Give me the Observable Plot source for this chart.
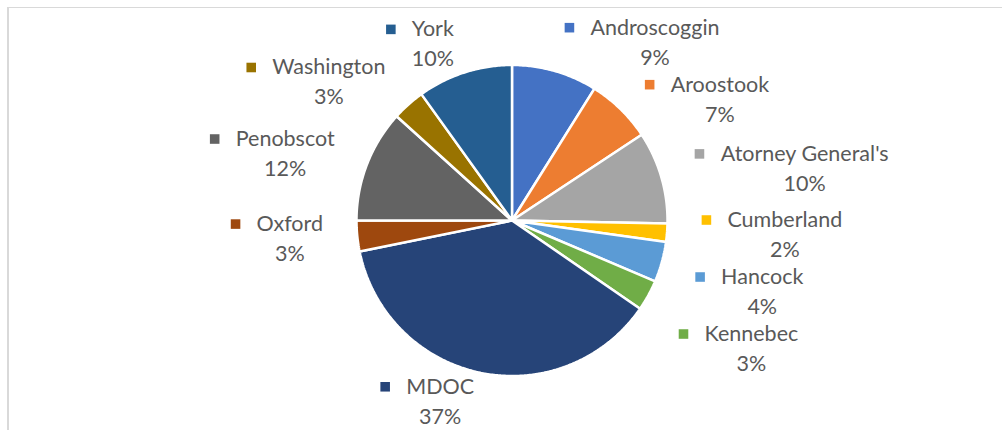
<!DOCTYPE html>
<html><head><meta charset="utf-8">
<script src="https://cdn.jsdelivr.net/npm/d3@7"></script>
<script src="https://cdn.jsdelivr.net/npm/@observablehq/plot@0.6"></script>
<style>
html,body{margin:0;padding:0;background:#fff;}
#wrap{position:relative;width:1002px;height:430px;overflow:hidden;}
#frame{position:absolute;left:7px;top:7px;right:-4px;bottom:-4px;border-left:2px solid #d9d9d9;border-top:1px solid #d9d9d9;pointer-events:none;}
#wrap svg{position:absolute;left:0;top:0;}
</style></head><body><div id="wrap"><div id="frame"></div></div>
<script>
// ---- data ----
const counties = ["Androscoggin","Aroostook","Atorney General's","Cumberland","Hancock","Kennebec","MDOC","Oxford","Penobscot","Washington","York"];
const shares = [8.9, 6.8, 9.6, 1.9, 4.2, 3.2, 37.2, 3.2, 11.7, 3.4, 9.9];
const colors = ["#4472C4","#ED7D31","#A5A5A5","#FFC000","#5B9BD5","#70AD47","#264478","#9E480E","#636363","#997300","#255E91"];

// ---- layout ----
const W = 1002, H = 430, CX = 511.5, CY = 220, R = 155.5;
const FONT_SIZE = 21.5, FONT_FAMILY = "Lato";
const TEXT_COLOR = "#595959";
const RX = 190, RY = 185, GAP = 57, KEY = 26, LINE = 15, OVERLAP_TOL = 10;

const rows = counties.map((name, i) => ({name, value: shares[i]}));
const total = d3.sum(shares);
const arcs = d3.pie().sort(null).value(d => d.value)(rows);

// slice outlines in unit-circle coordinates (angle clockwise from top)
const slicePts = [];
for (const a of arcs) {
  const n = Math.max(2, Math.ceil((a.endAngle - a.startAngle) / 0.01));
  slicePts.push({name: a.data.name, x: 0, y: 0});
  for (let i = 0; i <= n; i++) {
    const t = a.startAngle + (a.endAngle - a.startAngle) * i / n;
    slicePts.push({name: a.data.name, x: Math.sin(t), y: Math.cos(t)});
  }
}

// label layout: outside the pie at the slice's mid-angle, pushed down to avoid overlaps
const ctx = document.createElement("canvas").getContext("2d");
ctx.font = `${FONT_SIZE}px ${FONT_FAMILY}`;
const labels = arcs.map(a => {
  const t = (a.startAngle + a.endAngle) / 2;
  const s = Math.sin(t), c = Math.cos(t);
  const side = s >= 0 ? 1 : -1;
  const w = ctx.measureText(a.data.name).width;
  const ex = CX + RX * s;
  let x0, x1;
  if (side > 0) { x0 = ex; x1 = ex + KEY + w; } else { x1 = ex; x0 = ex - KEY - w; }
  return {name: a.data.name, pct: Math.round(a.data.value / total * 100) + "%", side, w, x0, x1, yc: CY - RY * c};
});
for (const side of [1, -1]) {
  const group = labels.filter(l => l.side === side).sort((a, b) => a.yc - b.yc);
  for (let j = 1; j < group.length; j++) {
    for (let i = 0; i < j; i++) {
      const a = group[i], b = group[j];
      if (!(a.x0 < b.x1 - OVERLAP_TOL && b.x0 < a.x1 - OVERLAP_TOL)) continue;
      if (b.yc - a.yc < GAP) b.yc = a.yc + GAP;
    }
  }
}
const toX = px => (px - CX) / R, toY = py => (CY - py) / R;
const labelRows = labels.map(l => ({
  name: l.name, pct: l.pct,
  tx: toX(l.x1 - l.w / 2),
  mx: toX(l.x0 + 5),
  ny: toY(l.yc - LINE),
  py: toY(l.yc + LINE)
}));

const chart = Plot.plot({
  width: W, height: H,
  margin: 0,
  x: {domain: [-CX / R, (W - CX) / R], axis: null},
  y: {domain: [-(H - CY) / R, CY / R], axis: null},
  color: {domain: counties, range: colors},
  style: {background: "transparent", fontFamily: FONT_FAMILY},
  marks: [
    Plot.line(slicePts, {x: "x", y: "y", z: "name", fill: "name", stroke: "white", strokeWidth: 2.5, curve: "linear-closed", strokeLinejoin: "miter"}),
    Plot.dot(labelRows, {x: "mx", y: "ny", symbol: "square", r: 5.4, fill: "name", stroke: null}),
    Plot.text(labelRows, {x: "tx", y: "ny", text: "name", fill: TEXT_COLOR, fontSize: FONT_SIZE, textAnchor: "middle"}),
    Plot.text(labelRows, {x: "tx", y: "py", text: "pct", fill: TEXT_COLOR, fontSize: FONT_SIZE, textAnchor: "middle"})
  ]
});
document.getElementById("wrap").appendChild(chart);
</script></body></html>
